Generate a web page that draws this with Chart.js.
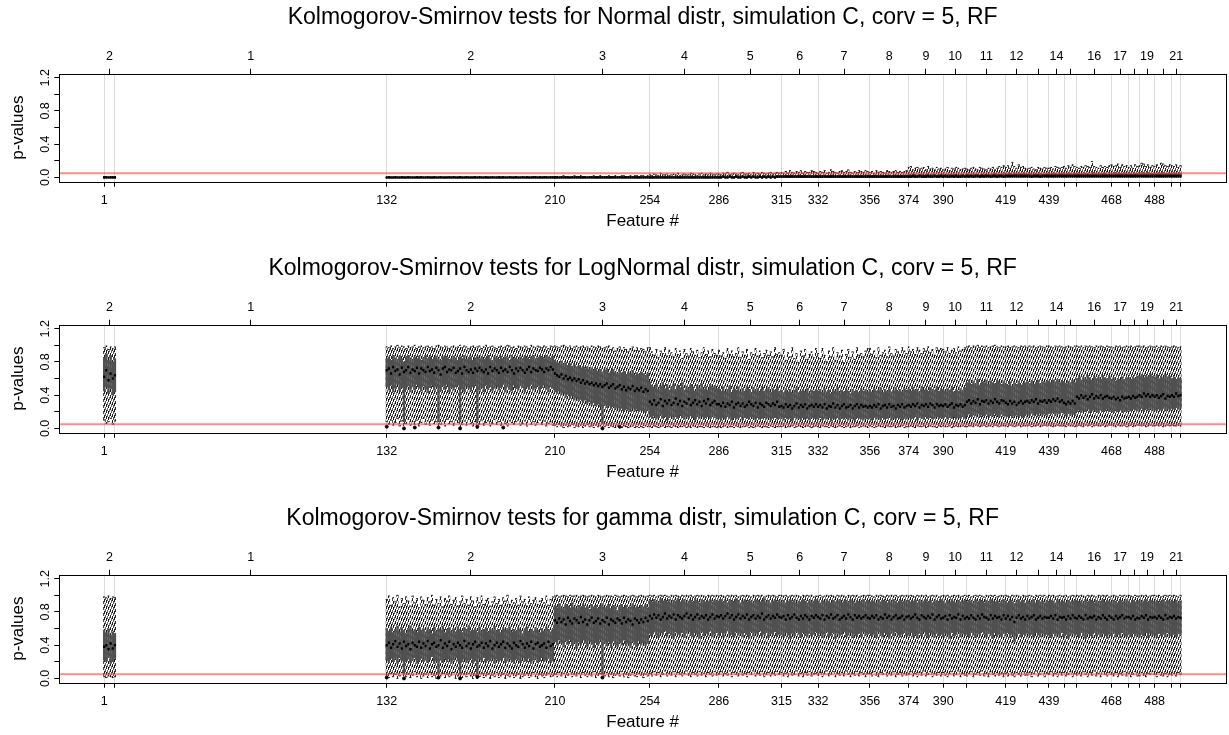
<!DOCTYPE html>
<html>
<head>
<meta charset="utf-8">
<script src="https://cdn.jsdelivr.net/npm/chart.js@4.4.0/dist/chart.umd.min.js"></script>
<style>
html, body { margin: 0; padding: 0; background: #fff; overflow: hidden; width: 1229px; height: 735px; }
canvas { position: absolute; left: 0; }
</style>
</head>
<body>
<canvas id="c1" width="1229" height="250" style="top:0px"></canvas>
<canvas id="c2" width="1229" height="250" style="top:251px"></canvas>
<canvas id="c3" width="1229" height="250" style="top:501px"></canvas>
<script>
// axis setup (feature numbers along x, groups of features marked by breaks)
const xMin = -19.8, xMax = 521.1;
const yMin = -0.052, yMax = 1.248;
const alphaLevel = 0.05;
const featureRanges = [[1, 6], [132, 500]];
const groupBreaks = [1, 6, 132, 210, 254, 286, 315, 332, 356, 374, 390, 401, 419, 429, 439, 446, 452, 468, 476, 481, 488, 496, 500];
const breakLabels = ['1', '', '132', '210', '254', '286', '315', '332', '356', '374', '390', '', '419', '', '439', '', '', '468', '', '', '488', '', ''];
const groupLabels = ['2', '1', '2', '3', '4', '5', '6', '7', '8', '9', '10', '11', '12', '', '14', '', '16', '17', '', '19', '', '21'];
const yTickVals = [0, 0.2, 0.4, 0.6, 0.8, 1.0, 1.2];
const yTickLabels = ['0.0', '', '0.4', '', '0.8', '', '1.2'];

const titles = [
    'Kolmogorov-Smirnov tests for Normal distr, simulation C, corv = 5, RF',
    'Kolmogorov-Smirnov tests for LogNormal distr, simulation C, corv = 5, RF',
    'Kolmogorov-Smirnov tests for gamma distr, simulation C, corv = 5, RF'
];

// p-values x100, one value per feature (features 1-6, then 132-500)
// Normal
const nmLo = [
0,0,0,0,0,0,0,0,0,0,0,0,0,0,0,0,0,0,0,0,0,0,0,0,0,
0,0,0,0,0,0,0,0,0,0,0,0,0,0,0,0,0,0,0,0,0,0,0,0,0,
0,0,0,0,0,0,0,0,0,0,0,0,0,0,0,0,0,0,0,0,0,0,0,0,0,
0,0,0,0,0,0,0,0,0,0,0,0,0,0,0,0,0,0,0,0,0,0,0,0,0,
0,0,0,0,0,0,0,0,0,0,0,0,0,0,0,0,0,0,0,0,0,0,0,0,0,
0,0,0,0,0,0,0,0,0,0,0,0,0,0,0,0,0,0,0,0,0,0,0,0,0,
0,0,0,0,0,0,0,0,0,0,0,0,0,0,0,0,0,0,0,0,0,0,0,0,0,
0,0,0,0,0,0,0,0,0,0,0,0,0,0,0,0,0,0,0,0,0,0,0,0,0,
0,0,0,0,0,0,0,0,0,0,0,0,0,0,0,0,0,0,0,0,0,0,0,0,0,
0,0,0,0,0,0,0,0,0,0,0,0,0,0,0,0,0,0,0,0,0,0,0,0,0,
0,0,0,0,0,0,0,0,0,0,0,0,0,0,0,0,0,0,0,0,0,0,0,0,0,
0,0,0,0,0,0,0,0,0,0,0,0,0,0,0,0,0,0,0,0,0,0,0,0,0,
0,0,0,0,0,0,0,0,0,0,0,0,0,0,0,0,0,0,0,0,0,0,0,0,0,
0,0,0,0,0,0,0,0,0,0,0,0,0,0,0,0,0,0,0,0,0,0,0,0,0,
0,0,0,0,0,0,0,0,0,0,0,0,0,0,0,0,0,0,0,0,0,0,0,0,0
];
const nmQ1 = [
0,0,0,0,0,0,0,0,0,0,0,0,0,0,0,0,0,0,0,0,0,0,0,0,0,
0,0,0,0,0,0,0,0,0,0,0,0,0,0,0,0,0,0,0,0,0,0,0,0,0,
0,0,0,0,0,0,0,0,0,0,0,0,0,0,0,0,0,0,0,0,0,0,0,0,0,
0,0,0,0,0,0,0,0,0,0,0,0,0,0,0,0,0,0,0,0,0,0,0,0,0,
0,0,0,0,0,0,0,0,0,0,0,0,0,0,0,0,0,0,0,0,0,0,0,0,0,
0,0,0,0,0,0,0,0,0,0,0,0,0,0,0,0,0,0,0,0,0,0,0,0,0,
0,0,0,0,0,0,0,0,0,0,0,0,0,0,0,0,0,0,0,0,0,0,0,0,0,
0,0,0,0,0,0,0,0,0,0,0,0,0,0,0,0,0,0,0,0,0,0,0,0,0,
0,0,0,0,0,0,0,0,0,0,0,0,0,0,0,0,0,0,0,0,0,0,0,0,0,
0,0,0,0,0,0,0,0,0,0,0,0,0,0,0,0,0,0,0,0,0,0,0,0,0,
0,0,0,0,0,0,0,0,0,0,0,0,0,0,0,0,0,0,0,0,0,0,0,0,0,
0,0,0,0,0,0,0,0,0,0,0,0,0,0,0,0,0,0,0,0,0,0,0,0,0,
0,0,0,0,0,0,0,0,0,0,0,0,0,0,0,0,0,0,0,0,0,0,0,0,0,
0,0,0,0,0,0,0,0,0,0,0,0,0,0,0,0,0,0,0,0,0,0,0,0,0,
0,0,0,0,0,0,0,0,0,0,0,0,0,0,0,0,0,0,0,0,0,0,0,0,0
];
const nmMed = [
0,0,0,0,0,0,
0,0,0,0,0,0,0,0,0,0, 0,0,0,0,0,0,0,0,0,0, 0,0,0,0,0,0,0,0,0,0, 0,0,0,0,0,0,0,0,0,0, 0,0,0,0,0,0,0,0,0,0, 0,0,0,0,0,0,0,0,0,0, 0,0,0,0,0,0,0,0,0,0, 0,0,0,0,0,0,0,0,
0,0,0,0,0,0,0,0,0,0, 0,0,0,0,0,0,0,0,0,0, 0,0,0,0,0,0,0,0,0,0, 0,0,0,0,0,0,0,0,0,0, 0,0,0,0,
0,0,0,0,0,0,0,0,0,0, 0,0,0,0,0,0,0,0,0,0, 0,0,0,0,0,0,0,0,0,0, 0,0,
0,0,1,0,0,1,0,0,1,0, 0,1,0,0,1,0,1,0,0,1, 0,1,0,1,0,1,0,1,1,
1,1,1,1,1,1,1,1,1,1, 1,1,1,1,1,1,1,
1,1,1,1,1,1,1,1,1,1, 1,1,1,1,1,1,1,1,1,1, 1,1,1,1,
1,1,1,1,1,1,1,1,1,1, 1,1,1,1,1,1,1,1,
1,1,2,1,1,2,1,1,1,2, 1,1,2,1,1,2,
1,2,1,1,2,1,2,1,1,2,1,
2,1,2,1,2,2,1,2,1,2, 2,1,2,2,1,2,2,1,
2,2,2,2,2,2,2,2,2,2,
2,2,1,2,2,2,1,2,2,2,
2,2,2,2,2,2,2,
2,2,2,2,2,2,
2,2,2,2,2,2,2,2,2,2, 2,2,2,2,2,2,
2,2,2,2,2,2,2,2,
2,2,2,2,2,
2,2,2,2,2,2,2,
2,2,2,2,2,2,2,2,
2,2,2,2,2
];
const nmQ3 = [
0,0,0,0,0,0,
0,0,0,0,0,0,0,0,0,0, 0,0,0,0,0,0,0,0,0,0, 0,0,0,0,0,0,0,0,0,0, 0,0,0,0,0,0,0,0,0,0, 0,0,0,0,0,0,0,0,0,0, 0,0,0,0,0,0,0,0,0,0, 0,0,0,0,0,0,0,0,0,0, 0,0,0,0,0,0,0,0,
0,0,0,0,0,0,0,0,0,0, 0,0,0,0,0,0,0,0,0,0, 0,0,0,0,0,0,0,0,0,0, 0,1,0,0,1,0,1,0,1,1, 0,1,1,1,
1,1,1,2,1,1,1,2,1,1, 1,1,2,1,1,1,2,1,1,2, 1,1,1,2,1,2,1,1,2,1, 2,1,
2,1,2,2,1,2,2,1,2,2, 2,1,2,2,2,1,2,2,2,2, 1,2,2,2,2,1,2,2,2,
2,2,3,2,2,3,2,2,3,2, 2,3,2,3,2,2,3,
2,3,2,3,2,2,3,3,2,2, 3,2,3,2,3,3,2,2,3,2, 3,2,3,3,
3,2,3,3,2,3,3,2,3,3, 2,3,3,3,2,3,3,3,
4,3,4,4,3,4,4,3,4,4, 3,4,4,3,4,4,
4,3,4,4,3,4,4,3,4,4,3,
4,4,3,4,4,4,3,4,4,4, 3,4,4,5,4,4,4,5,
5,4,5,4,5,5,4,5,4,5,
4,5,4,4,5,4,5,4,4,5,
5,4,5,5,4,5,5,
5,4,5,5,4,5,
5,5,4,5,5,5,4,6,5,5, 4,5,5,5,4,5,
5,5,6,5,5,5,6,5,
5,5,4,5,5,
5,6,5,5,6,5,5,
5,5,6,5,6,5,5,5,
5,6,5,5,5
];
const nmHi = [
1,1,0,1,1,1,
0,1,0,0,1,0,0,1,0,0, 1,0,0,0,1,0,1,0,0,1, 0,0,1,0,0,1,0,0,0,1, 0,1,0,0,1,0,0,1,0,0, 0,1,0,1,0,0,1,0,0,1, 0,0,1,0,1,0,0,1,0,0, 1,0,0,1,0,1,0,0,1,1, 0,1,0,1,1,0,1,1,
1,1,0,1,2,1,1,0,1,2, 1,1,2,1,1,0,1,1,2,1, 1,2,1,1,1,2,1,1,2,1, 1,2,2,1,1,2,1,2,2,1, 2,2,1,2,
3,2,4,3,2,5,3,3,4,2, 3,4,3,5,2,3,4,3,3,5, 4,3,2,4,5,3,4,3,5,4, 3,4,
4,3,5,4,6,3,4,5,4,3, 5,6,4,4,5,3,6,4,5,4, 6,5,4,5,6,4,5,6,5,
6,5,7,5,8,6,5,7,6,8, 5,7,6,6,8,7,6,
5,7,6,8,5,6,9,7,6,5, 7,8,6,7,9,6,5,7,6,8, 7,6,8,7,
6,7,5,8,6,7,6,5,8,7, 6,7,8,6,7,6,7,8,
12,13,9,11,12,10,11,12,9,13, 10,11,9,12,10,11,
9,10,12,8,11,10,12,11,9,10,11,
10,9,11,12,10,9,12,11,10,9, 11,10,12,9,11,13,12,14,
12,14,11,18,13,11,15,12,13,11,
10,11,12,10,9,12,11,10,12,11,
11,12,10,13,12,11,12,
13,11,14,12,15,13,
12,11,13,12,14,13,12,19,13,12, 11,14,12,13,12,14,
15,13,14,16,12,15,13,14,
12,14,11,15,13,
14,17,16,13,15,12,14,
13,15,12,17,16,14,13,15,
14,13,15,12,14
];

// LogNormal
const lnLo = [
10,6,8,12,5,9,
8,5,10,4,7,12,3,9,0,6, 11,4,8,5,10,3,7,12,5,9, 4,10,6,8,0,5,9,3,11,6, 8,4,10,7,0,5,9,4,11,6, 3,8,0,5,10,4,7,9,3,6, 11,5,8,4,10,6,3,9,7,5, 8,10,4,6,9,3,11,5,8,4, 7,10,5,9,3,6,8,4,
4,2,5,3,1,4,2,3,5,1, 3,2,4,1,3,5,2,3,1,4, 2,3,0,2,4,1,3,2,1,3, 2,1,3,2,1,2,3,1,2,1, 2,1,3,2,
2,1,3,2,1,2,3,1,2,2, 1,3,2,1,2,2,3,1,2,1, 3,2,1,2,2,1,3,2,1,2, 2,1,
2,1,2,3,1,2,2,1,3,2, 1,2,2,3,1,2,1,2,3,2, 1,2,2,1,3,2,1,2,2,
2,3,1,2,2,3,1,2,3,2, 1,2,3,2,1,2,3,
2,1,3,2,2,1,3,2,1,2, 3,2,1,2,3,1,2,2,3,1, 2,3,2,1,
3,2,1,2,3,2,2,1,3,2, 2,3,1,2,2,3,1,2,
2,3,2,1,3,2,2,3,1,2, 3,2,2,1,3,2,
3,2,2,3,1,2,3,2,2,3,2,
2,3,3,2,4,3,2,3,4,2, 3,3,2,4,3,2,3,3,
3,2,4,3,2,3,4,2,3,3,
3,4,2,3,3,4,2,3,4,3,
4,3,2,3,4,3,3,
3,2,4,3,3,2,
3,4,3,2,4,3,4,2,3,4, 3,3,4,2,3,4,
4,3,2,4,3,3,4,2,
3,4,2,3,4,
4,3,4,2,3,4,3,
3,4,3,4,2,3,4,3,
4,3,3,4,3
];
const lnQ1 = [
45,50,42,48,40,44,
50,46,52,44,48,53,45,49,8,47, 51,44,50,46,53,48,45,51,47,43, 49,52,46,50,8,45,51,47,53,44, 49,46,50,52,8,47,44,51,48,45, 50,53,8,46,49,44,52,47,50,45, 48,51,46,49,53,44,50,47,45,52, 48,46,51,49,44,50,47,53,46,48, 51,45,49,52,47,44,50,48,
44,42,45,40,43,38,41,36,39,34, 37,33,35,31,34,30,32,28,31,27, 29,26,6,28,25,27,24,26,23,25, 22,24,21,23,22,20,24,21,23,20, 22,21,19,22,
14,12,15,11,13,16,12,14,10,13, 15,11,14,12,16,13,11,14,12,15, 13,10,14,12,15,11,13,14,12,15, 13,11,
12,10,13,11,14,12,10,13,11,12, 14,10,13,12,11,14,12,10,13,11, 12,14,11,13,10,12,13,11,12,
12,10,13,11,12,9,13,11,12,10, 13,11,12,10,13,12,11,
11,13,10,12,11,13,9,12,11,13, 10,12,11,13,10,12,11,9,13,12, 11,10,12,11,
12,10,13,11,12,10,13,11,12,14, 10,12,11,13,12,10,12,11,
13,11,12,14,10,13,12,11,14,12, 13,11,12,14,12,13,
12,14,11,13,12,14,11,13,12,14,12,
15,17,14,16,15,18,14,16,15,17, 14,16,15,18,16,14,17,15,
15,14,16,13,15,16,14,15,13,16,
17,15,18,16,17,15,18,16,17,16,
18,17,19,16,18,17,19,
17,15,18,16,17,16,
20,22,19,21,20,23,19,21,22,20, 19,22,20,21,23,20,
20,19,21,20,22,19,21,20,
22,21,23,22,21,
22,24,21,23,22,24,22,
22,21,23,22,24,21,23,22,
24,23,25,23,24
];
const lnMed = [
62,70,58,66,60,64,
70,72,66,74,69,71,65,73,68,70, 74,67,71,69,73,66,72,70,68,74, 69,71,67,73,70,65,72,74,68,71, 70,73,67,69,72,66,74,70,68,71, 67,72,69,73,70,68,71,66,74,69, 72,70,67,73,69,71,68,74,70,66, 72,69,73,70,67,71,74,68,72,70, 69,73,71,68,72,70,74,71,
66,64,62,65,60,63,59,61,58,60, 57,59,55,58,54,56,53,55,52,54, 51,53,50,52,54,49,51,53,48,50, 52,47,50,46,49,47,51,45,48,46, 49,44,47,45,
32,29,34,28,31,35,27,33,30,34, 28,31,36,29,33,27,32,30,35,28, 31,34,29,32,27,33,30,35,28,31, 33,29,
29,27,31,26,30,28,32,25,29,31, 27,30,26,28,32,29,27,31,25,30, 28,26,31,29,27,30,28,32,26,
27,25,29,26,28,24,27,30,25,28, 26,29,24,27,28,26,29,
26,28,25,29,24,27,26,30,25,28, 24,27,29,25,26,28,24,27,29,25, 28,26,27,25,
27,25,28,26,29,24,27,28,25,29, 26,27,24,28,26,29,25,27,
28,26,29,27,30,25,28,27,29,26, 30,28,25,29,27,28,
27,29,26,28,30,25,28,27,29,26,28,
32,34,30,33,31,35,29,33,32,34, 30,33,31,35,32,30,34,33,
31,29,33,30,32,28,31,33,30,32,
33,31,34,32,35,30,33,32,34,31,
34,32,35,33,36,32,34,
31,29,32,30,33,30,
38,36,40,37,39,35,38,41,36,39, 37,40,36,38,39,37,
36,38,35,37,34,38,36,37,
38,36,39,37,38,
40,38,42,39,41,38,40,
38,40,37,39,41,36,39,38,
40,38,42,39,40
];
const lnQ3 = [
85,90,82,88,80,84,
84,86,82,88,85,83,87,84,80,86, 88,85,83,86,84,87,82,85,88,84, 86,83,85,87,84,82,86,88,85,83, 84,87,85,82,86,84,88,83,85,86, 82,85,87,84,86,83,85,88,84,82, 86,85,83,87,84,86,85,82,88,84, 85,83,86,84,87,85,83,86,88,84, 85,87,86,84,88,86,85,87,
82,80,78,81,77,79,76,78,75,77, 74,76,73,75,72,74,71,73,70,72, 69,71,68,70,72,67,69,71,68,66, 70,67,69,65,68,66,70,64,67,65, 68,66,64,67,
56,52,49,54,47,51,55,48,53,46, 50,54,47,52,49,55,46,51,48,53, 50,45,52,48,54,47,50,46,53,49, 51,48,
48,45,50,44,47,51,43,49,46,50, 44,48,45,51,47,43,49,46,48,44, 50,45,47,49,43,48,46,50,45,
46,43,48,44,47,42,46,49,43,45, 47,44,48,42,46,45,47,
45,47,43,48,44,46,42,47,45,49, 43,46,44,48,45,42,47,44,46,43, 48,45,47,44,
47,44,48,45,46,49,43,47,45,48, 44,46,49,45,47,44,48,46,
48,45,49,46,47,44,50,46,48,45, 49,47,46,50,45,48,
47,45,48,46,49,44,47,45,48,46,49,
55,58,53,57,54,59,52,56,55,58, 53,57,55,54,58,56,53,57,
54,52,56,51,55,53,57,52,54,55,
56,54,57,53,55,58,54,56,55,57,
57,55,58,56,59,55,57,
56,54,57,55,58,55,
60,63,58,62,59,64,61,58,63,60, 62,59,64,61,60,63,
59,61,57,60,58,62,59,61,
61,59,62,60,63,
63,65,61,64,62,66,63,
62,64,60,63,61,65,62,63,
60,62,59,61,60
];
const lnHi = [
97,99,95,98,96,98,
98,97,99,96,98,100,97,99,98,96, 99,97,98,100,96,98,99,97,98,99, 97,98,96,99,100,98,97,99,98,96, 98,99,97,98,100,97,99,98,96,98, 99,97,98,99,96,98,100,97,98,99, 97,96,98,99,97,98,100,99,97,98, 96,99,98,97,99,98,96,100,98,97, 99,98,97,99,98,96,99,98,
99,98,97,99,100,98,97,99,96,98, 99,97,98,99,97,98,96,99,98,97, 99,98,96,97,98,99,95,97,93,96, 98,94,97,95,92,96,98,94,97,93, 96,95,92,97,
97,92,88,95,85,93,90,97,87,94, 91,86,96,89,93,84,95,90,87,96, 92,88,94,85,91,97,89,93,86,95, 90,88,
94,87,91,84,96,89,93,86,90,97, 85,92,88,95,83,91,89,96,87,93, 85,90,94,88,92,86,97,89,91,
88,95,82,91,86,97,84,90,79,93, 87,95,83,89,92,85,96,
90,84,96,88,80,93,86,97,82,91, 87,94,79,89,95,85,92,83,97,88, 90,86,93,96,
96,89,93,85,97,88,91,94,86,98, 90,87,95,92,89,97,93,90,
98,92,95,89,97,94,90,96,93,98, 91,95,88,97,94,96,
95,92,97,90,94,96,91,98,93,95,97,
98,99,97,99,98,100,97,99,98,99, 97,98,99,100,98,97,99,98,
98,99,97,98,99,98,97,99,98,99,
97,99,98,99,97,98,99,98,97,99,
99,98,97,99,98,99,98,
97,98,99,98,97,99,
99,98,99,97,99,98,99,98,97,99, 98,99,98,97,99,98,
98,97,99,98,99,97,98,99,
98,99,97,98,99,
99,98,99,97,98,99,98,
98,99,97,99,98,99,98,97,
98,99,98,97,98
];

// gamma
const gmLo = [
2,1,3,2,1,2,
4,1,6,2,5,0,3,7,0,2, 5,1,4,8,2,6,0,3,5,1, 7,2,4,0,0,3,6,1,5,2, 4,7,0,3,0,1,5,2,6,3, 0,4,0,2,6,1,3,5,0,4, 2,7,1,3,5,0,4,2,6,1, 3,5,0,2,4,6,1,3,7,2, 0,5,3,1,4,6,2,3,
5,2,7,3,6,1,4,8,2,5, 3,6,1,7,4,2,5,3,8,1, 4,6,0,3,7,2,5,1,4,6, 3,8,2,5,1,4,7,3,2,6, 4,1,5,3,
6,3,8,4,7,2,5,9,3,6, 4,8,2,7,5,3,6,9,4,2, 7,5,3,8,4,6,2,7,5,3, 8,4,
5,8,3,6,4,9,2,7,5,3, 8,4,6,2,7,5,9,3,6,4, 8,2,5,7,3,6,4,8,5,
7,3,6,2,8,4,5,9,3,6, 2,7,4,8,3,5,6,
4,7,2,6,9,3,5,8,2,6, 4,7,3,9,5,2,6,4,8,3, 7,5,2,6,
6,3,8,4,2,7,5,9,3,6, 4,8,2,5,7,3,6,4,
5,8,3,6,2,7,4,9,3,5, 8,2,6,4,7,3,
7,4,2,6,8,3,5,9,2,6,4,
3,6,8,2,5,7,4,9,3,6, 2,8,5,3,7,4,6,2,
6,3,8,4,2,7,5,3,8,4,
4,7,2,6,9,3,5,8,2,6,
5,8,3,6,2,7,4,
7,3,5,8,2,6,
4,6,3,8,5,2,7,4,9,3, 6,2,8,5,3,7,
5,3,7,2,6,4,8,3,
6,2,5,8,3,
3,7,4,2,6,5,8,
5,2,7,4,3,6,2,5,
4,6,3,7,5
];
const gmQ1 = [
22,20,25,18,20,24,
22,19,24,20,23,18,25,21,5,20, 23,19,22,25,18,21,24,20,22,19, 23,26,18,21,5,22,19,24,20,23, 18,22,25,21,5,20,23,19,22,24, 18,21,5,23,20,25,19,22,21,24, 18,23,20,22,25,19,21,24,20,18, 23,22,19,25,21,20,24,18,22,23, 19,21,25,20,22,24,19,21,
44,40,46,42,38,45,41,47,39,43, 36,44,40,46,42,38,45,41,37,43, 40,46,5,42,39,44,37,45,41,38, 43,40,46,39,42,37,44,41,38,45, 40,43,39,42,
54,51,56,52,49,55,53,57,50,54, 52,48,56,53,51,55,49,54,57,52, 50,55,53,48,56,51,54,52,57,50, 53,55,
52,55,50,54,57,51,53,49,56,52, 54,50,55,53,48,56,51,54,52,57, 50,53,55,49,54,52,56,51,53,
53,50,55,52,48,54,51,56,53,49, 55,52,50,54,51,53,56,
51,54,49,53,56,50,52,55,48,54, 51,53,56,50,52,55,49,53,51,54, 50,56,52,53,
54,51,53,49,56,52,50,55,53,48, 54,51,56,52,50,53,55,51,
52,55,50,53,48,54,51,56,52,49, 55,53,50,54,51,53,
50,54,52,48,55,51,53,56,50,54,52,
53,50,55,52,49,54,51,56,53,50, 54,52,48,55,51,53,50,54,
52,55,49,53,44,51,54,50,53,52,
54,51,53,49,55,52,50,54,51,53,
52,49,54,51,53,50,55,
50,53,48,52,54,51,
53,50,55,51,48,54,52,49,55,51, 53,50,54,52,48,53,
51,54,50,53,49,55,52,50,
53,50,54,51,52,
50,53,51,55,49,54,52,
52,49,54,51,53,50,55,51,
51,53,50,54,52
];
const gmMed = [
38,40,35,42,36,40,
40,43,37,41,45,38,42,36,44,39, 41,35,43,40,38,44,37,42,39,45, 36,41,43,38,40,46,37,42,39,44, 35,41,38,43,40,37,45,39,42,36, 41,44,38,40,43,37,42,39,45,36, 40,43,38,41,44,37,42,39,36,43, 40,38,45,41,37,42,39,44,36,41, 43,38,40,42,37,44,39,41,
70,67,72,68,71,65,73,69,66,72, 70,67,74,68,71,65,70,73,67,69, 72,66,70,68,73,65,71,69,67,72, 70,66,73,68,71,69,65,72,70,67, 71,68,73,69,
75,72,77,73,76,71,74,78,72,75, 73,77,71,76,74,72,75,78,73,76, 71,74,77,72,75,73,76,71,74,77, 72,75,
74,76,72,75,78,73,76,71,74,77, 72,75,73,77,71,74,76,72,75,73, 78,71,74,76,72,75,73,77,74,
73,75,71,76,72,74,77,73,71,75, 72,76,74,71,75,73,76,
74,72,76,71,75,73,77,72,74,76, 71,73,75,72,77,74,71,76,73,75, 72,74,76,73,
72,75,73,76,71,74,72,77,73,75, 71,74,76,72,73,75,71,74,
75,72,74,77,73,71,76,74,72,75, 73,77,71,74,76,72,
73,75,71,76,72,74,73,77,71,75,72,
74,72,76,73,71,75,72,77,74,73, 71,76,72,75,73,74,71,76,
72,75,71,74,68,73,76,72,74,71,
75,72,74,76,71,73,75,72,74,73,
73,75,72,76,71,74,73,
74,71,75,72,76,73,
72,75,73,71,76,72,74,73,75,71, 74,72,76,73,71,75,
73,71,75,72,74,76,72,74,
74,72,75,71,73,
72,75,73,76,71,74,73,
74,72,75,73,71,76,72,74,
73,75,72,74,73
];
const gmQ3 = [
58,55,60,52,56,54,
60,57,62,55,59,63,56,61,58,54, 60,63,57,59,55,62,58,60,56,61, 59,54,62,57,60,58,63,55,59,61, 57,60,56,62,58,55,61,59,63,57, 58,60,55,62,57,59,61,56,60,58, 63,57,59,55,61,58,60,62,56,59, 57,61,58,54,60,62,56,59,57,61, 58,55,60,57,62,59,56,60,
88,85,90,86,84,89,87,85,91,86, 84,88,86,90,85,87,83,89,86,88, 84,87,90,85,86,89,84,88,86,82, 87,89,85,88,84,86,90,85,87,84, 88,86,89,85,
94,92,95,93,91,96,93,94,92,95, 91,94,93,96,92,94,95,91,93,94, 92,96,93,91,95,94,92,93,95,92, 94,93,
93,95,92,94,91,95,93,92,96,94, 91,93,95,92,94,93,91,95,94,92, 93,96,92,94,91,93,95,92,94,
92,94,91,93,95,92,94,91,93,92, 95,93,91,94,92,93,95,
93,91,94,92,95,93,91,94,92,93, 95,91,93,94,92,95,93,91,94,92, 93,95,92,94,
92,94,93,91,95,92,94,93,91,94, 92,95,93,91,94,92,93,94,
94,92,93,95,91,94,92,93,95,92, 94,91,93,94,92,95,
93,91,94,92,95,93,91,94,92,93,94,
92,94,93,91,95,92,94,93,91,94, 92,95,93,92,94,91,93,95,
93,91,94,92,90,93,95,92,94,91,
94,92,93,95,91,94,92,93,91,94,
92,94,93,91,95,92,93,
93,91,94,92,93,94,
94,92,93,91,95,92,94,93,91,94, 92,93,95,92,94,93,
92,94,93,91,94,92,93,95,
93,91,94,92,93,
94,92,93,95,92,94,93,
92,94,91,93,95,92,94,93,
93,92,94,91,93
];
const gmHi = [
98,97,99,96,98,97,
95,99,88,97,92,100,86,96,90,98, 93,87,99,91,96,85,98,94,89,97, 92,100,88,95,90,98,86,96,93,99, 89,94,97,87,92,99,90,95,88,98, 93,86,97,91,99,89,94,96,87,92, 98,90,95,88,97,93,100,89,94,91, 96,88,99,92,95,87,98,90,94,97, 89,93,96,91,99,88,95,98,
99,100,98,99,100,99,98,100,99,99, 100,98,99,100,99,98,99,100,99,98, 100,99,98,99,100,99,99,98,100,99, 98,99,100,99,98,99,100,99,98,99, 100,99,98,99,
100,99,100,98,99,100,99,100,99,98, 100,99,100,99,98,100,99,100,99,100, 98,99,100,99,100,99,98,100,99,100, 99,100,
99,100,99,98,100,99,100,99,100,98, 99,100,99,100,99,98,100,99,100,99, 100,98,99,100,99,100,99,98,100,
100,99,100,98,99,100,99,100,99,98, 100,99,100,99,100,98,99,
99,100,98,99,100,99,100,99,98,100, 99,100,99,98,100,99,100,99,100,98, 99,100,99,100,
100,99,98,100,99,100,99,98,100,99, 100,99,100,98,99,100,99,100,
99,100,99,98,100,99,100,99,100,98, 99,100,99,100,98,99,
100,99,100,98,99,100,99,100,98,99,100,
99,100,98,99,100,99,100,99,98,100, 99,100,99,100,98,99,100,99,
100,99,98,100,99,100,99,98,100,99,
99,100,99,98,100,99,100,99,100,98,
100,99,100,98,99,100,99,
99,100,98,99,100,99,
100,99,100,99,98,100,99,100,99,98, 100,99,100,99,100,98,
99,100,99,98,100,99,100,99,
100,99,98,100,99,
99,100,99,100,98,99,100,
100,99,100,98,99,100,99,100,
99,100,99,98,100
];

// outlying p-values (feature #, value)
const nmOutX = [];
const nmOutY = [];
const lnOutX = [132, 140, 145, 156, 166, 174, 186, 232, 240];
const lnOutY = [0.02, 0.0, 0.01, 0.01, 0.0, 0.02, 0.01, 0.0, 0.02];
const gmOutX = [132, 140, 156, 166, 174, 232];
const gmOutY = [0.01, 0.0, 0.01, 0.0, 0.02, 0.01];

const featureIds = [];
featureRanges.forEach(([a, b]) => { for (let f = a; f <= b; f++) featureIds.push(f); });
const groupCenters = groupBreaks.slice(0, -1).map((b, i) => (b + groupBreaks[i + 1]) / 2);

Chart.defaults.font.family = "'Liberation Sans', Arial, Helvetica, sans-serif";
Chart.defaults.font.size = 12.5;
Chart.defaults.color = '#000';

const framePlugin = {
    id: 'frame',
    afterDraw(chart) {
        const { ctx, chartArea: a } = chart;
        ctx.save();
        ctx.strokeStyle = '#000';
        ctx.lineWidth = 1;
        ctx.strokeRect(Math.round(a.left) + 0.5, Math.round(a.top) + 0.5, Math.round(a.right - a.left), Math.round(a.bottom - a.top));
        ctx.restore();
    }
};

function makeChart(id, title, lo, q1, med, q3, hi, outX, outY) {
    const canvas = document.getElementById(id);
    const ctx = canvas.getContext('2d');

    // dashed whiskers, staggered a little from column to column
    const pc = document.createElement('canvas');
    pc.width = 5; pc.height = 6;
    const pctx = pc.getContext('2d');
    pctx.fillStyle = 'rgba(20,20,20,0.95)';
    [0, 3, 1, 4, 2].forEach((off, c) => {
        pctx.fillRect(c, off, 1, 3);
        if (off + 3 > 6) pctx.fillRect(c, 0, 1, off - 3);
    });
    const dash = ctx.createPattern(pc, 'repeat');

    const pts = (arr) => arr.map((v, i) => ({ x: featureIds[i], y: v / 100 }));
    const span = (a, b) => a.map((v, i) => ({ x: featureIds[i], y: [v / 100, b[i] / 100] }));

    return new Chart(ctx, {
        type: 'bar',
        data: {
            datasets: [
                {
                    type: 'line',
                    data: [{ x: xMin, y: alphaLevel }, { x: xMax, y: alphaLevel }],
                    borderColor: 'rgba(255,60,60,0.6)',
                    borderWidth: 2,
                    pointRadius: 0,
                    order: 0
                },
                {
                    type: 'line',
                    data: pts(med),
                    showLine: false,
                    pointStyle: 'line',
                    pointRadius: 1.1,
                    pointBorderWidth: 2.5,
                    pointBorderColor: '#000',
                    order: 1
                },
                {
                    type: 'line',
                    data: outX.map((x, i) => ({ x: x, y: outY[i] })),
                    showLine: false,
                    pointStyle: 'circle',
                    pointRadius: 1.5,
                    pointBorderWidth: 1,
                    pointBorderColor: '#000',
                    pointBackgroundColor: '#000',
                    order: 1
                },
                {
                    data: span(q1, q3),
                    backgroundColor: '#505050',
                    borderWidth: 0,
                    barThickness: 1.7,
                    grouped: false,
                    order: 2
                },
                {
                    type: 'line',
                    data: pts(hi).concat(pts(lo)),
                    showLine: false,
                    pointStyle: 'line',
                    pointRadius: 0.9,
                    pointBorderWidth: 1,
                    pointBorderColor: '#1a1a1a',
                    order: 3
                },
                {
                    data: span(lo, hi),
                    backgroundColor: dash,
                    borderWidth: 0,
                    barThickness: 1.3,
                    grouped: false,
                    order: 4
                }
            ]
        },
        options: {
            responsive: false,
            animation: false,
            devicePixelRatio: 1,
            events: [],
            layout: { autoPadding: false, padding: { left: 0, right: 3, top: 0, bottom: 14.1 } },
            plugins: {
                legend: { display: false },
                tooltip: { enabled: false },
                title: {
                    display: true,
                    text: title,
                    fullSize: false,
                    color: '#000',
                    font: { size: 23, weight: 'normal' },
                    padding: { top: 4.2, bottom: 0 }
                }
            },
            scales: {
                x: {
                    type: 'linear',
                    position: 'bottom',
                    min: xMin,
                    max: xMax,
                    offset: false,
                    afterBuildTicks: (s) => { s.ticks = groupBreaks.map(v => ({ value: v })); },
                    afterFit: (s) => { s.height = 54.2; s.paddingLeft = 0; s.paddingRight = 0; },
                    ticks: {
                        autoSkip: false, maxRotation: 0, minRotation: 0, padding: 6,
                        callback: (v, i) => breakLabels[i]
                    },
                    grid: { color: '#dcdcdc', lineWidth: 1, tickColor: '#000', tickLength: 5, offset: false },
                    border: { display: false },
                    title: { display: true, text: 'Feature #', font: { size: 17 }, padding: { top: 0, bottom: 4 } }
                },
                xTop: {
                    type: 'linear',
                    axis: 'x',
                    position: 'top',
                    min: xMin,
                    max: xMax,
                    offset: false,
                    afterBuildTicks: (s) => { s.ticks = groupCenters.map(v => ({ value: v })); },
                    afterFit: (s) => { s.height = 41.9; s.paddingLeft = 0; s.paddingRight = 0; },
                    ticks: {
                        autoSkip: false, maxRotation: 0, minRotation: 0, padding: 5,
                        callback: (v, i) => groupLabels[i]
                    },
                    grid: { drawOnChartArea: false, tickColor: '#000', tickLength: 5, offset: false },
                    border: { display: false }
                },
                y: {
                    type: 'linear',
                    min: yMin,
                    max: yMax,
                    afterBuildTicks: (s) => { s.ticks = yTickVals.map(v => ({ value: v })); },
                    afterFit: (s) => { s.width = 59.3; s.paddingTop = 0; s.paddingBottom = 0; },
                    ticks: {
                        autoSkip: false, minRotation: 90, maxRotation: 90, crossAlign: 'center', padding: 0,
                        callback: (v, i) => yTickLabels[i]
                    },
                    grid: { drawOnChartArea: false, tickColor: '#000', tickLength: 5 },
                    border: { display: false },
                    title: { display: true, text: 'p-values', font: { size: 17 }, padding: { top: 8.1, bottom: 0 } }
                }
            }
        },
        plugins: [framePlugin]
    });
}

document.addEventListener('DOMContentLoaded', () => {
    makeChart('c1', titles[0], nmLo, nmQ1, nmMed, nmQ3, nmHi, nmOutX, nmOutY);
    makeChart('c2', titles[1], lnLo, lnQ1, lnMed, lnQ3, lnHi, lnOutX, lnOutY);
    makeChart('c3', titles[2], gmLo, gmQ1, gmMed, gmQ3, gmHi, gmOutX, gmOutY);
});
</script>
</body>
</html>
